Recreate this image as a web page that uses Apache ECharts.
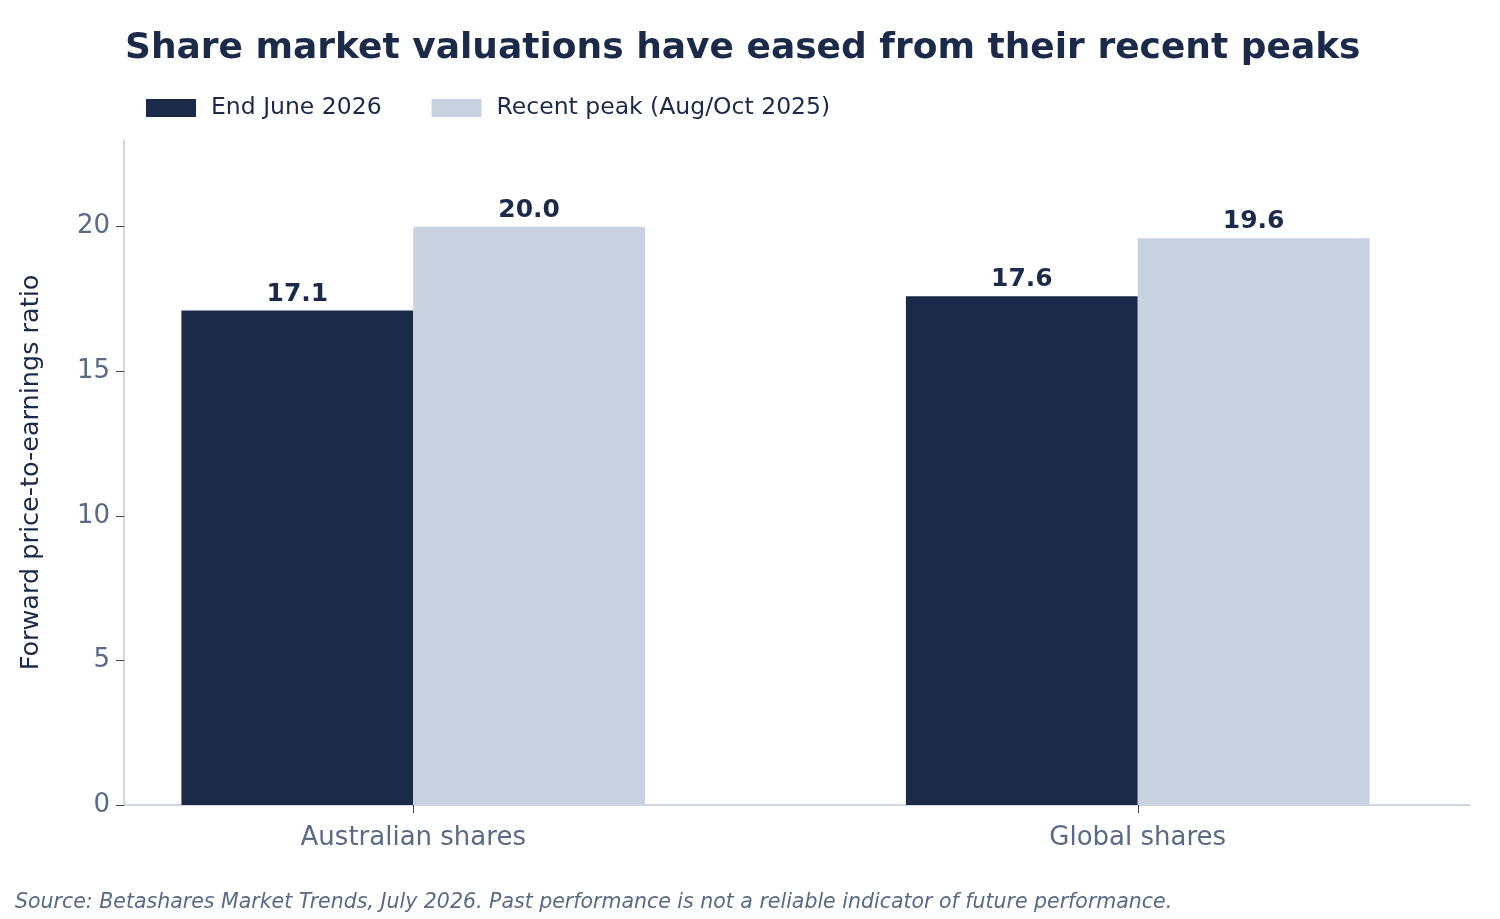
<!DOCTYPE html>
<html>
<head>
<meta charset="utf-8">
<script src="https://cdn.jsdelivr.net/npm/echarts@6/dist/echarts.min.js"></script>
<style>html,body{margin:0;padding:0;background:#fff}#main{width:1500px;height:919px}</style>
</head>
<body>
<div id="main"></div>
<script>
const categories = ['Australian shares', 'Global shares']
const endJune2026 = [17.1, 17.6]
const recentPeak = [20.0, 19.6]
const yTicks = [0, 5, 10, 15, 20]

const dark = '#1c2a4a'
const light = '#c9d2e0'
const grey = '#5a6a85'
const font = 'DejaVu Sans'

let myChart = echarts.init(document.getElementById('main'))
const barLabel = {
  show: true,
  position: 'top',
  distance: 4,
  color: dark,
  fontFamily: font,
  fontSize: 25,
  fontWeight: 'bold',
  formatter: function (p) { return p.value.toFixed(1) }
}
myChart.setOption({
  animation: false,
  textStyle: { fontFamily: font },
  title: {
    text: 'Share market valuations have eased from their recent peaks',
    left: 120,
    top: 26,
    textStyle: { color: dark, fontSize: 36, fontWeight: 'bold', fontFamily: font }
  },
  legend: {
    left: 141,
    top: 91,
    itemWidth: 50,
    itemHeight: 18,
    itemGap: 50,
    icon: 'rect',
    textStyle: { color: dark, fontSize: 23.5, fontFamily: font, padding: [0, 0, 0, 10] }
  },
  graphic: [{
    type: 'text',
    left: 15,
    top: 893,
    style: {
      text: 'Source: Betashares Market Trends, July 2026. Past performance is not a reliable indicator of future performance.',
      fill: grey,
      fontSize: 20.5,
      fontStyle: 'italic',
      fontFamily: font
    }
  }],
  grid: [
    { left: 124, right: 30, top: 140, bottom: 114 },
    { left: 51, right: -43, top: 140, bottom: 114 }
  ],
  xAxis: [{
    gridIndex: 0,
    type: 'value',
    min: 0,
    max: 1,
    axisLine: { show: true, lineStyle: { color: '#c0c8d8', width: 1.5 } },
    axisTick: { show: false },
    axisLabel: { show: false },
    splitLine: { show: false }
  }, {
    gridIndex: 1,
    type: 'category',
    data: categories,
    axisLine: { show: false },
    axisTick: { show: true, alignWithLabel: true, length: 8, lineStyle: { color: '#444' } },
    axisLabel: { color: grey, fontSize: 26, margin: 20, fontFamily: font }
  }],
  yAxis: [{
    gridIndex: 0,
    type: 'value',
    min: 0,
    max: 23,
    name: 'Forward price-to-earnings ratio',
    nameLocation: 'middle',
    nameGap: 80,
    nameTextStyle: { color: dark, fontSize: 25.5, fontFamily: font },
    axisLine: { show: true, lineStyle: { color: '#c0c8d8', width: 1.5 } },
    axisTick: { show: true, length: 8, customValues: yTicks, lineStyle: { color: '#444' } },
    splitLine: { show: false },
    axisLabel: { color: grey, fontSize: 26, margin: 14, fontFamily: font, customValues: yTicks }
  }, {
    gridIndex: 1,
    type: 'value',
    min: 0,
    max: 23,
    show: false
  }],
  series: [{
    name: 'End June 2026',
    type: 'bar',
    xAxisIndex: 1,
    yAxisIndex: 1,
    data: endJune2026,
    itemStyle: { color: dark },
    barGap: '0%',
    barCategoryGap: '36%',
    label: barLabel
  }, {
    name: 'Recent peak (Aug/Oct 2025)',
    type: 'bar',
    xAxisIndex: 1,
    yAxisIndex: 1,
    data: recentPeak,
    itemStyle: { color: light },
    label: barLabel
  }]
})
</script>
</body>
</html>
